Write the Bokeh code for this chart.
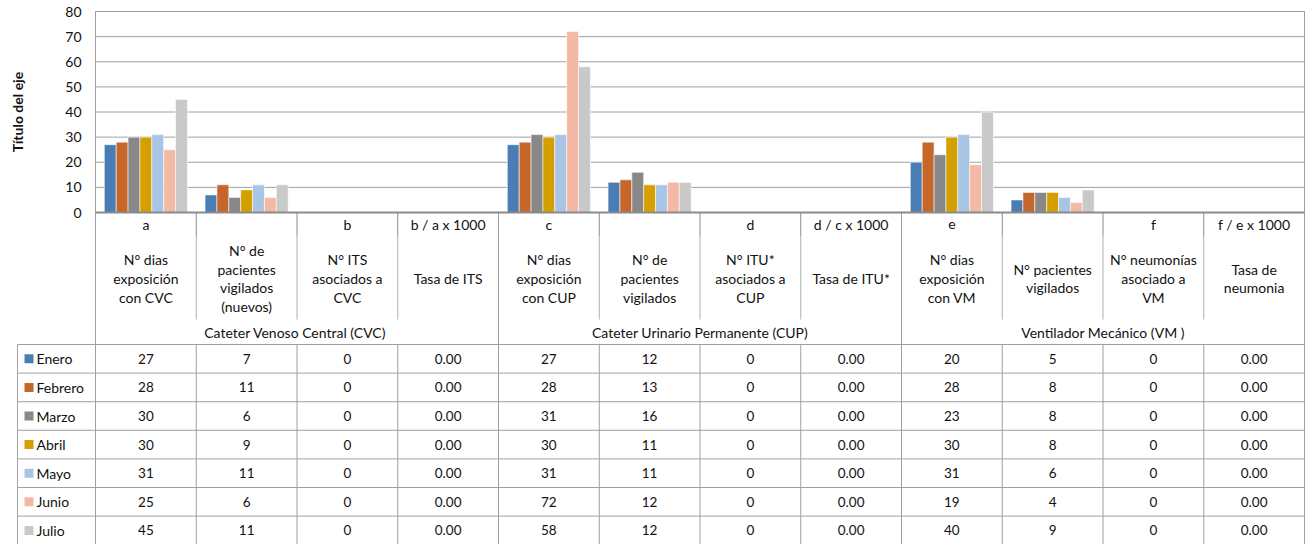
from math import pi
from bokeh.plotting import figure
from bokeh.models import Range1d, ColumnDataSource
from bokeh.core.properties import value
from bokeh.embed import file_html
from bokeh.resources import INLINE

# ---------------- data ----------------
months = ["Enero", "Febrero", "Marzo", "Abril", "Mayo", "Junio", "Julio"]
month_colors = ["#4A7DB4", "#C5662B", "#888888", "#D4A000", "#A9C5E6", "#F3B9A4", "#C9C9C9"]

codes = ["a", "", "b", "b / a x 1000", "c", "", "d", "d / c x 1000", "e", "", "f", "f / e x 1000"]
descriptions = [
    "N° dias\nexposición\ncon CVC",
    "N° de\npacientes\nvigilados\n(nuevos)",
    "N° ITS\nasociados a\nCVC",
    "Tasa de ITS",
    "N° dias\nexposición\ncon CUP",
    "N° de\npacientes\nvigilados",
    "N° ITU*\nasociados a\nCUP",
    "Tasa de ITU*",
    "N° dias\nexposición\ncon VM",
    "N° pacientes\nvigilados",
    "N° neumonías\nasociado a\nVM",
    "Tasa de\nneumonia",
]
groups = ["Cateter Venoso  Central (CVC)", "Cateter Urinario Permanente (CUP)", "Ventilador Mecánico (VM )"]
is_rate = [False, False, False, True, False, False, False, True, False, False, False, True]

enero   = [27, 7, 0, 0.0, 27, 12, 0, 0.0, 20, 5, 0, 0.0]
febrero = [28, 11, 0, 0.0, 28, 13, 0, 0.0, 28, 8, 0, 0.0]
marzo   = [30, 6, 0, 0.0, 31, 16, 0, 0.0, 23, 8, 0, 0.0]
abril   = [30, 9, 0, 0.0, 30, 11, 0, 0.0, 30, 8, 0, 0.0]
mayo    = [31, 11, 0, 0.0, 31, 11, 0, 0.0, 31, 6, 0, 0.0]
junio   = [25, 6, 0, 0.0, 72, 12, 0, 0.0, 19, 4, 0, 0.0]
julio   = [45, 11, 0, 0.0, 58, 12, 0, 0.0, 40, 9, 0, 0.0]
series = [enero, febrero, marzo, abril, mayo, junio, julio]

y_ticks = [0, 10, 20, 30, 40, 50, 60, 70, 80]
y_tick_labels = [str(t) for t in y_ticks]
axis_title = "Título del eje"

# ---------------- layout constants ----------------
FONT = "Lato"
FS = "14px"
FS_NUM = "13.5px"
TXT = "#111111"
LINE = "#A0A0A0"
DARK = "#8A8A8A"

W, H = 1305, 544
ncat = len(codes)
PX_LEFT, PX_RIGHT = 95, 1304     # plot area / category columns
PX_TABLE_LEFT = 17
pxu = (PX_RIGHT - PX_LEFT) / ncat
def xd(px):
    return (px - PX_LEFT) / pxu

PY_TOP, PY_ZERO = 11, 212
SC = (PY_ZERO - PY_TOP) / 80.0
def yd(py):
    return (PY_ZERO - py) / SC

p = figure(width=W, height=H, x_range=Range1d(xd(0), xd(W)), y_range=Range1d(yd(H), yd(0)),
           output_backend="svg", toolbar_location=None,
           x_axis_location=None, y_axis_location=None,
           min_border_left=0, min_border_right=0, min_border_top=0, min_border_bottom=0)
p.outline_line_color = None
p.grid.visible = False

# ---- grid lines (plot area) ----
gt = y_ticks[1:]
p.segment(x0=[0] * len(gt), y0=gt, x1=[ncat] * len(gt), y1=gt, line_color=LINE, line_width=1)

# ---- bars ----
nser = len(months)
group_w = 0.825
bw = group_w / nser
for j, (m, vals, col) in enumerate(zip(months, series, month_colors)):
    xs = [i + 0.5 + (j - (nser - 1) / 2) * bw for i in range(ncat)]
    src = ColumnDataSource(dict(x=xs, top=vals))
    p.vbar(x="x", top="top", bottom=0, width=bw, source=src,
           fill_color=col, line_color="white", line_width=0.8, line_alpha=0.7)

# ---- y tick labels and axis title ----
p.text(x=[xd(81)] * len(y_ticks), y=y_ticks, text=y_tick_labels, text_align="right",
       text_baseline="middle", text_font=value(FONT), text_font_size=FS, text_color=TXT)
p.text(x=[xd(16.5)], y=[yd(111.5)], text=[axis_title], angle=pi / 2, text_align="center",
       text_baseline="middle", text_font=value(FONT), text_font_size="14px",
       text_font_style="bold", text_color=TXT)

# ---- table lines ----
nrow = len(months)
ROW0, ROWH = 344, 28.6
row_edges = [yd(ROW0 + k * ROWH) for k in range(nrow + 1)]
row_centers = [yd(ROW0 + (k + 0.5) * ROWH) for k in range(nrow)]
y_bottom = yd(H)

p.segment(x0=[xd(PX_TABLE_LEFT)] * (nrow + 1), y0=row_edges, x1=[ncat] * (nrow + 1), y1=row_edges,
          line_color=LINE, line_width=1)
p.segment(x0=[0], y0=[80], x1=[ncat], y1=[80], line_color=LINE, line_width=1)
p.segment(x0=[0, ncat], y0=[80, 80], x1=[0, ncat], y1=[y_bottom, y_bottom], line_color=LINE, line_width=1)
p.segment(x0=[xd(PX_TABLE_LEFT)], y0=[row_edges[0]], x1=[xd(PX_TABLE_LEFT)], y1=[y_bottom],
          line_color=LINE, line_width=1)

inner = [i for i in range(1, ncat) if i % 4 != 0]
bounds = [i for i in range(1, ncat) if i % 4 == 0]
y_code_bottom = yd(236)
y_cat_bottom = yd(319)
p.segment(x0=inner, y0=[0] * len(inner), x1=inner, y1=[y_code_bottom] * len(inner),
          line_color=DARK, line_width=1)
p.segment(x0=inner, y0=[y_code_bottom] * len(inner), x1=inner, y1=[y_cat_bottom] * len(inner),
          line_color="#B0B0B0", line_width=1)
p.segment(x0=inner, y0=[row_edges[0]] * len(inner), x1=inner, y1=[y_bottom] * len(inner),
          line_color=LINE, line_width=1)
p.segment(x0=bounds, y0=[0] * len(bounds), x1=bounds, y1=[y_bottom] * len(bounds),
          line_color=LINE, line_width=1)

# axis base line
p.segment(x0=[0], y0=[0], x1=[ncat], y1=[0], line_color=DARK, line_width=2)

# ---- header texts ----
cx = [i + 0.5 for i in range(ncat)]
p.text(x=cx, y=[yd(223.5)] * ncat, text=codes, text_align="center", text_baseline="middle",
       text_font=value(FONT), text_font_size=FS, text_color=TXT)
p.text(x=cx, y=[yd(278)] * ncat, text=descriptions, text_align="center", text_baseline="middle",
       text_font=value(FONT), text_font_size=FS, text_color=TXT, text_line_height=1.09)
gx = [2 + 4 * k for k in range(len(groups))]
p.text(x=gx, y=[yd(332)] * len(groups), text=groups, text_align="center", text_baseline="middle",
       text_font=value(FONT), text_font_size=FS, text_color=TXT)

# ---- legend column ----
p.scatter(x=[xd(28.5)] * nrow, y=row_centers, marker="square", size=9,
          fill_color=month_colors, line_color=None)
p.text(x=[xd(36)] * nrow, y=row_centers, text=months, text_align="left", text_baseline="middle",
       text_font=value(FONT), text_font_size=FS, text_color=TXT)

# ---- table values ----
tx, ty, tt = [], [], []
for r, vals in enumerate(series):
    for i, v in enumerate(vals):
        tx.append(i + 0.5)
        ty.append(row_centers[r])
        tt.append(f"{v:.2f}" if is_rate[i] else f"{int(v)}")
p.text(x=tx, y=ty, text=tt, text_align="center", text_baseline="middle",
       text_font=value(FONT), text_font_size=FS_NUM, text_color=TXT)

open("out.html", "w").write(file_html(p, INLINE))
